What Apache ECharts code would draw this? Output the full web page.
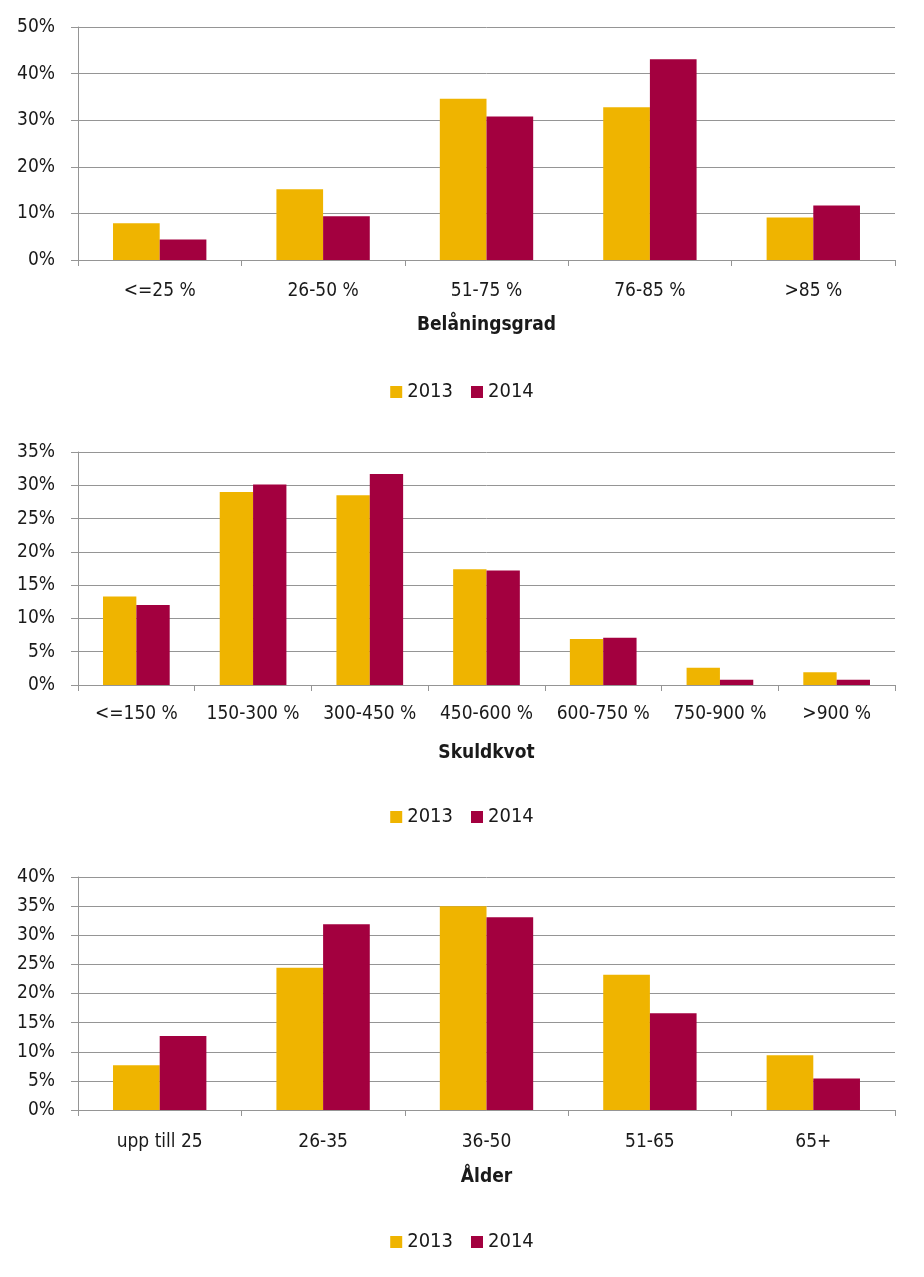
<!DOCTYPE html>
<html><head><meta charset="utf-8">
<script src="https://cdn.jsdelivr.net/npm/echarts@6/dist/echarts.min.js"></script>
<style>
html,body{margin:0;padding:0;background:#fff;width:924px;height:1277px;overflow:hidden}
.c{position:absolute;left:0;width:924px}
</style></head><body>
<div id="c1" class="c" style="top:0;height:425px"></div>
<div id="c2" class="c" style="top:425px;height:425px"></div>
<div id="c3" class="c" style="top:850px;height:427px"></div>
<script>
// Chart 1: Belåningsgrad
const cats1 = ['<=25 %', '26-50 %', '51-75 %', '76-85 %', '>85 %'];
const v1_2013 = [7.9, 15.2, 34.6, 32.8, 9.1];
const v1_2014 = [4.4, 9.4, 30.8, 43.1, 11.7];
const ticks1 = {min: 0, max: 50, interval: 10};

// Chart 2: Skuldkvot
const cats2 = ['<=150 %', '150-300 %', '300-450 %', '450-600 %', '600-750 %', '750-900 %', '>900 %'];
const v2_2013 = [13.3, 29.0, 28.5, 17.4, 6.9, 2.6, 1.9];
const v2_2014 = [12.0, 30.1, 31.7, 17.2, 7.1, 0.8, 0.8];
const ticks2 = {min: 0, max: 35, interval: 5};

// Chart 3: Ålder
const cats3 = ['upp till 25', '26-35', '36-50', '51-65', '65+'];
const v3_2013 = [7.7, 24.4, 35.0, 23.2, 9.4];
const v3_2014 = [12.7, 31.9, 33.1, 16.6, 5.4];
const ticks3 = {min: 0, max: 40, interval: 5};

const seriesNames = ['2013', '2014'];
const colors = ['#EFB400', '#A3003F'];

const FONT = "'Liberation Sans Narrow','DejaVu Sans Condensed','Liberation Sans',sans-serif";
const TXT = '#1a1a1a';
const GRID = '#959595';

function build(el, cats, a, b, ticks, name, labelMargin, nameGap) {
  const chart = echarts.init(document.getElementById(el), null, {renderer: 'canvas'});
  chart.setOption({
    animation: false,
    color: colors,
    grid: {left: 78, right: 29, top: 27, height: 233},
    legend: {
      data: seriesNames, top: 377, left: 'center',
      itemWidth: 12, itemHeight: 12, itemGap: 18, icon: 'rect',
      textStyle: {fontFamily: FONT, fontSize: 20, color: TXT, padding: [0, 0, 0, 0]}
    },
    xAxis: {
      type: 'category', data: cats,
      name: name, nameLocation: 'middle', nameGap: nameGap,
      nameTextStyle: {fontFamily: FONT, fontSize: 19, fontWeight: 'bold', color: TXT},
      axisLine: {lineStyle: {color: GRID, width: 1}},
      axisTick: {show: true, length: 6, lineStyle: {color: GRID}},
      axisLabel: {fontFamily: FONT, fontSize: 19, color: TXT, margin: labelMargin, interval: 0}
    },
    yAxis: {
      type: 'value', min: ticks.min, max: ticks.max, interval: ticks.interval,
      axisLine: {show: true, lineStyle: {color: GRID, width: 1}},
      axisTick: {show: true, length: 7, lineStyle: {color: GRID}},
      splitLine: {lineStyle: {color: GRID, width: 1}},
      axisLabel: {fontFamily: FONT, fontSize: 19, color: TXT, margin: 23, formatter: '{value}%'}
    },
    series: [
      {name: seriesNames[0], type: 'bar', data: a, barGap: '0%', barCategoryGap: '42.86%'},
      {name: seriesNames[1], type: 'bar', data: b, barGap: '0%', barCategoryGap: '42.86%'}
    ]
  });
}

build('c1', cats1, v1_2013, v1_2014, ticks1, 'Belåningsgrad', 22, 56);
build('c2', cats2, v2_2013, v2_2014, ticks2, 'Skuldkvot', 20, 59);
build('c3', cats3, v3_2013, v3_2014, ticks3, 'Ålder', 23, 58);
</script>
</body></html>
